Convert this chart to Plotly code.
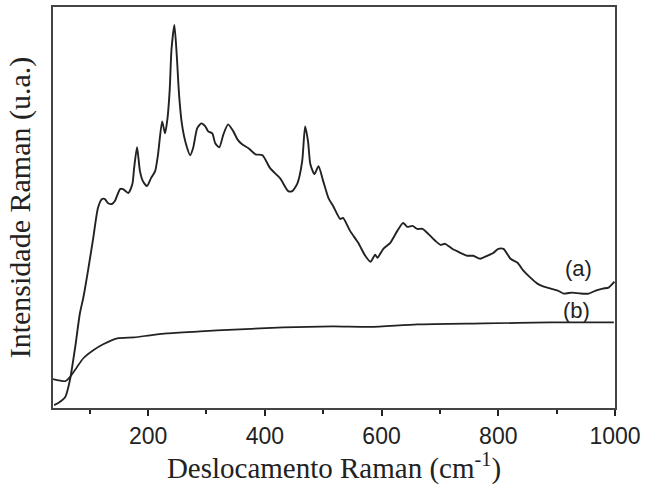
import plotly.graph_objects as go

# Curve (a): Raman shift (cm-1) and intensity (a.u.)
shift_a = [39, 46, 58, 66, 75, 83, 89, 97, 106, 114, 121, 126, 131, 138, 143,
           152, 157, 166, 173, 176, 181, 186, 191, 198, 205, 212, 217,
           224, 229, 233, 237, 240, 245, 249, 253, 258, 265, 272, 277, 284,
           291, 298, 303, 310, 315, 322, 329, 337, 346, 353, 361, 372, 384,
           396, 409, 426, 440, 447, 456, 464, 469, 474, 478, 485, 492, 500,
           509, 517, 529, 534, 546, 560, 572, 581, 589, 593, 603, 615, 627,
           637, 644, 653, 661, 670, 680, 692, 701, 709, 721, 735, 747, 757,
           769, 781, 792, 800, 809, 821, 833, 843, 855, 867, 878, 890, 902,
           912, 927, 941, 955, 967, 979, 989, 996, 999]
inten_a = [3, 5, 11, 28, 61, 95, 111, 138, 171, 201, 210, 210, 206, 205, 208,
           220, 220, 216, 225, 241, 262, 238, 228, 223, 231, 238, 255,
           288, 276, 290, 320, 360, 385, 355, 315, 285, 265, 254, 261, 281,
           286, 283, 278, 276, 266, 262, 275, 285, 278, 270, 265, 261, 255,
           254, 241, 231, 218, 218, 226, 248, 283, 268, 245, 235, 243, 228,
           211, 203, 190, 191, 178, 166, 153, 147, 154, 151, 160, 166, 178,
           186, 182, 183, 180, 180, 175, 168, 164, 165, 160, 156, 153, 153,
           150, 153, 156, 160, 160, 150, 146, 138, 131, 125, 122, 120, 118,
           115, 116, 115, 115, 118, 120, 121, 125, 127]

# Curve (b)
shift_b = [37, 58, 66, 78, 89, 106, 123, 147, 176, 203, 232, 289, 318, 432,
           517, 581, 661, 775, 890, 998]
inten_b = [29, 27, 31, 41, 50, 58, 64, 70, 71, 73, 75, 77, 78, 81,
           82, 81.5, 84, 85, 86, 86]

labels = ["(a)", "(b)"]
label_x = [938, 934]
label_y = [140, 98]

line_color = "#222222"
frame_color = "#444444"

fig = go.Figure()
fig.add_trace(go.Scatter(x=shift_a, y=inten_a, mode="lines",
                         line=dict(color=line_color, width=1.9, shape="spline", smoothing=0.6),
                         showlegend=False, hoverinfo="skip"))
fig.add_trace(go.Scatter(x=shift_b, y=inten_b, mode="lines",
                         line=dict(color=line_color, width=1.7, shape="spline", smoothing=0.6),
                         showlegend=False, hoverinfo="skip"))

for t, x, y in zip(labels, label_x, label_y):
    fig.add_annotation(x=x, y=y, text=t, showarrow=False,
                       font=dict(family="Liberation Sans, Arial", size=22, color="#222"))

fig.update_layout(
    width=650, height=485,
    margin=dict(l=53, r=35, t=5, b=77),
    paper_bgcolor="white", plot_bgcolor="white",
    xaxis=dict(
        range=[37, 1000], tickvals=[200, 400, 600, 800, 1000],
        ticks="outside", ticklen=6, tickwidth=1.5, tickcolor="#222",
        minor=dict(tickvals=[100, 300, 500, 700, 900], ticks="outside", ticklen=4,
                   tickwidth=1.5, tickcolor="#222", showgrid=False),
        showgrid=False, zeroline=False,
        showline=True, linecolor=frame_color, linewidth=2, mirror=True,
        tickfont=dict(family="Liberation Sans, Arial", size=23, color="#222"),
        title=dict(text="Deslocamento Raman (cm<sup>-1</sup>)", standoff=4,
                   font=dict(family="Liberation Serif, Times New Roman", size=29, color="#222")),
    ),
    yaxis=dict(
        range=[0, 403], showticklabels=False, ticks="",
        showgrid=False, zeroline=False,
        showline=True, linecolor=frame_color, linewidth=2, mirror=True,
        title=dict(text="Intensidade Raman (u.a.)", standoff=12,
                   font=dict(family="Liberation Serif, Times New Roman", size=30, color="#222")),
    ),
)

fig.write_html("out.html")
